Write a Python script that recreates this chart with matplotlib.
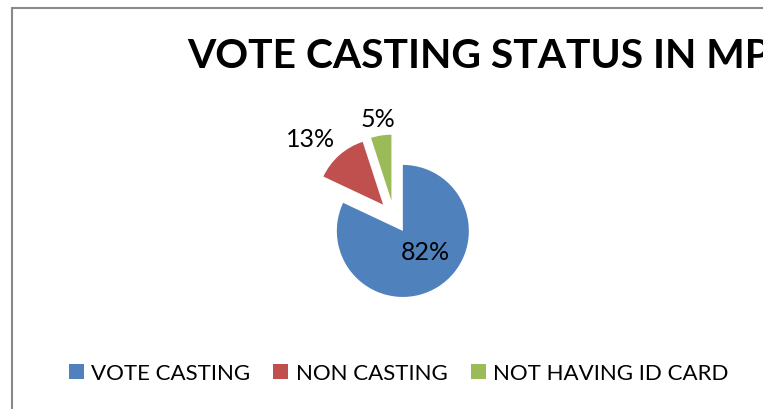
import matplotlib.pyplot as plt
from matplotlib.patches import Rectangle

# vote casting status shares (%)
labels = ['VOTE CASTING', 'NON CASTING', 'NOT HAVING ID CARD']
shares = [82, 13, 5]
colors = ['#4F81BD', '#C0504D', '#9BBB59']

plt.rcParams['font.family'] = ['Lato', 'DejaVu Sans']

W, H = 763, 409
fig = plt.figure(figsize=(W / 100, H / 100), dpi=100)
ax = fig.add_axes([0, 0, 1, 1])

# axes in pixel units so the pie can be placed directly
r = 66
wedges, _, pcts = ax.pie(shares, colors=colors, startangle=90, counterclock=False,
                         center=(394, H - 217), radius=r, explode=[0.25 * r] * 3,
                         autopct='%1.0f%%', textprops=dict(fontsize=18))
ax.set_xlim(0, W)
ax.set_ylim(0, H)
ax.set_aspect('auto')
ax.axis('off')

# data label spots (baseline)
label_pos = [(425, 260), (311, 147), (378, 127)]
for t, (x, y) in zip(pcts, label_pos):
    t.set_position((x, H - y))
    t.set_ha('center')
    t.set_va('baseline')
    t.set_color('black')

fig.text(187 / W, 1 - 68 / H, 'VOTE CASTING STATUS IN MP', fontsize=29.3,
         fontweight='bold', ha='left', va='baseline')

ax.legend(wedges, labels, loc='center', bbox_to_anchor=(398.5 / W, 1 - 373.5 / H),
          bbox_transform=fig.transFigure, ncol=3, frameon=False, fontsize=16,
          handlelength=0.68, handleheight=0.68, handletextpad=0.32,
          columnspacing=1.05, borderpad=0)

# chart border (only left and top edges fall inside the image)
fig.add_artist(Rectangle((12 / W, -0.5), 1.5, 1.5 - 8 / H, transform=fig.transFigure,
                         fill=False, edgecolor='#898989', linewidth=1.5))

fig.savefig('out.png', dpi=100)
